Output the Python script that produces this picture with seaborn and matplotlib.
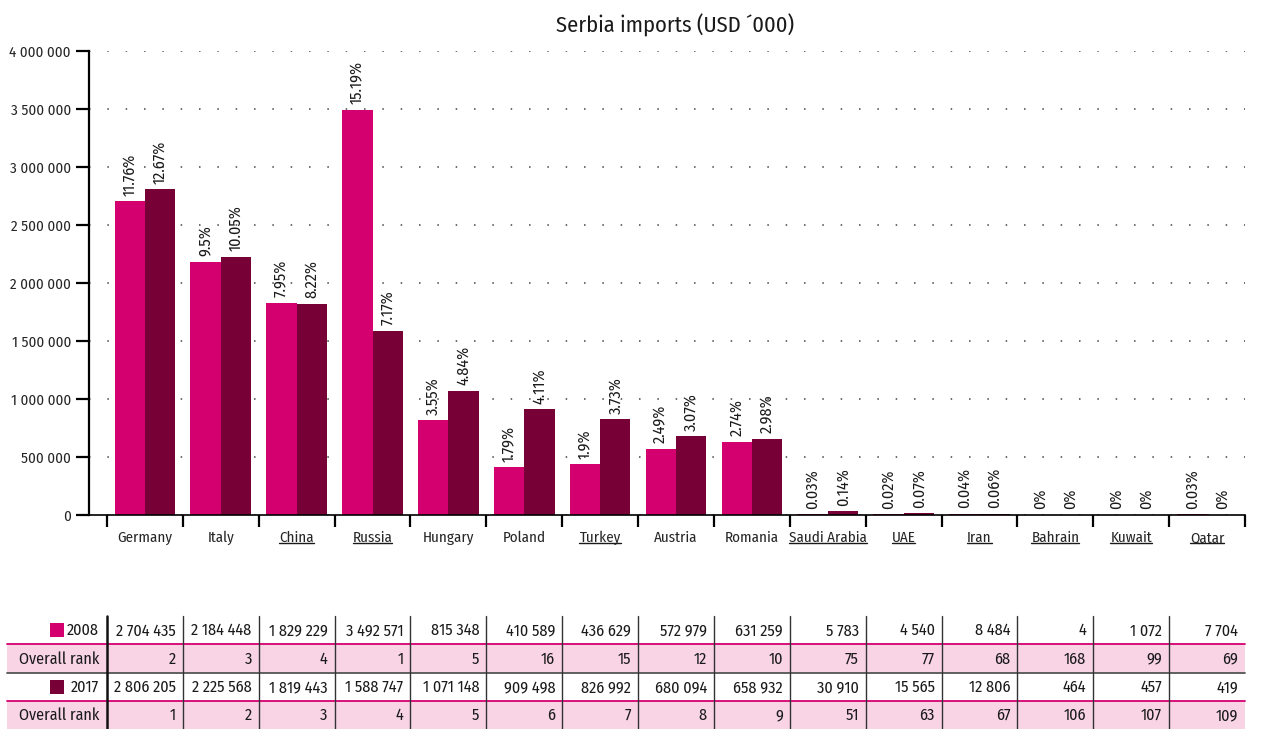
import numpy as np
import pandas as pd
import matplotlib
matplotlib.use("Agg")
import matplotlib.pyplot as plt
from matplotlib.lines import Line2D
from matplotlib.patches import Rectangle
import seaborn as sns

# ---------------- data ----------------
countries = ["Germany", "Italy", "China", "Russia", "Hungary", "Poland", "Turkey",
             "Austria", "Romania", "Saudi Arabia", "UAE", "Iran", "Bahrain", "Kuwait", "Qatar"]
underlined = ["China", "Russia", "Turkey", "Saudi Arabia", "UAE", "Iran", "Bahrain", "Kuwait", "Qatar"]
years = ["2008", "2017"]
values_2008 = [2704435, 2184448, 1829229, 3492571, 815348, 410589, 436629,
               572979, 631259, 5783, 4540, 8484, 4, 1072, 7704]
values_2017 = [2806205, 2225568, 1819443, 1588747, 1071148, 909498, 826992,
               680094, 658932, 30910, 15565, 12806, 464, 457, 419]
rank_2008 = [2, 3, 4, 1, 5, 16, 15, 12, 10, 75, 77, 68, 168, 99, 69]
rank_2017 = [1, 2, 3, 4, 5, 6, 7, 8, 9, 51, 63, 67, 106, 107, 109]
share_2008 = ["11.76%", "9.5%", "7.95%", "15.19%", "3.55%", "1.79%", "1.9%", "2.49%",
              "2.74%", "0.03%", "0.02%", "0.04%", "0%", "0%", "0.03%"]
share_2017 = ["12.67%", "10.05%", "8.22%", "7.17%", "4.84%", "4.11%", "3.73%", "3.07%",
              "2.98%", "0.14%", "0.07%", "0.06%", "0%", "0%", "0%"]
yticks = [0, 500000, 1000000, 1500000, 2000000, 2500000, 3000000, 3500000, 4000000]
title = "Serbia imports (USD \u00b4000)"
rank_label = "Overall rank"

# ---------------- style ----------------
sns.set_theme(style="white")
plt.rcParams["font.family"] = ["Fira Sans Condensed", "IBM Plex Sans Condensed", "DejaVu Sans"]
plt.rcParams["text.color"] = "#1a1a1a"

c2008 = "#d5006f"
c2017 = "#770036"
pink_bg = "#f8d4e5"
FS = 10.8      # axis tick labels
FS_T = 11.6    # table text
FS_P = 11.6    # percent labels

def fmt(v):
    return f"{v:,.0f}".replace(",", " ")

df = pd.DataFrame({
    "country": countries * 2,
    "year": [years[0]] * len(countries) + [years[1]] * len(countries),
    "value": values_2008 + values_2017,
})

W, H = 1261, 729
fig = plt.figure(figsize=(W / 100, H / 100), dpi=100)
ax_l, ax_r = 89 / W, 1245 / W
ax = fig.add_axes([ax_l, 1 - 515 / H, ax_r - ax_l, (515 - 51) / H])

sns.barplot(data=df, x="country", y="value", hue="year", order=countries,
            hue_order=years, palette=[c2008, c2017], saturation=1, width=0.8,
            linewidth=0, ax=ax, legend=False)

n = len(countries)
ax.set_xlim(-0.737, n - 0.5)
ax.set_ylim(0, 4000000)
ax.set_xlabel("")
ax.set_ylabel("")

# y axis
ax.set_yticks(yticks)
ax.set_yticklabels([fmt(v) for v in yticks], fontsize=FS)
ax.tick_params(axis="y", direction="out", length=9.5, width=1.6, color="black", pad=3.5, left=True)
ax.yaxis.grid(True, linestyle=(0, (1, 11)), color="#444444", linewidth=1.1)
ax.set_axisbelow(True)

# x axis: ticks at boundaries, labels at centres
bounds = np.arange(-0.5, n, 1.0)
ax.set_xticks(bounds)
ax.set_xticklabels([""] * len(bounds))
ax.tick_params(axis="x", which="major", direction="out", length=8.5, width=1.6,
               color="black", bottom=True)
ax.set_xticks(np.arange(n), minor=True)
ax.set_xticklabels(countries, minor=True, fontsize=FS)
ax.tick_params(axis="x", which="minor", length=0, pad=11.5, bottom=True)

for s in ["top", "right"]:
    ax.spines[s].set_visible(False)
ax.spines["left"].set_color("black")
ax.spines["left"].set_linewidth(1.6)
ax.spines["bottom"].set_color("black")
ax.spines["bottom"].set_linewidth(1.2)

# percent labels
ax.bar_label(ax.containers[0], labels=share_2008, rotation=90, padding=4, fontsize=FS_P)
ax.bar_label(ax.containers[1], labels=share_2017, rotation=90, padding=4, fontsize=FS_P)

fig.text(675 / W, 1 - 25 / H, title, ha="center", va="center", fontsize=16.2)

# ---------------- table ----------------
tax = fig.add_axes([ax_l, 0, ax_r - ax_l, (729 - 616) / H], sharex=ax)
tax.set_ylim(4, 0)
tax.axis("off")
px = 75.87  # pixels per category (for offsets outside axes)
left_edge = -0.5 - (107 - 7) / px
rows = [
    (years[0], [fmt(v) for v in values_2008], False, c2008),
    (rank_label, [str(v) for v in rank_2008], True, None),
    (years[1], [fmt(v) for v in values_2017], False, c2017),
    (rank_label, [str(v) for v in rank_2017], True, None),
]
for r, (lab, cells, shaded, col) in enumerate(rows):
    if shaded:
        tax.add_patch(Rectangle((left_edge, r), (n - 0.5) - left_edge, 1,
                                facecolor=pink_bg, edgecolor="none", clip_on=False, zorder=0))
    yc = r + 0.52
    tax.text(-0.5 - 8 / px, yc, lab, ha="right", va="center", fontsize=FS_T, clip_on=False)
    if col is not None:
        tax.add_patch(Rectangle((-0.5 - 57 / px, r + 0.25), 14 / px, 0.5,
                                facecolor=col, edgecolor="none", clip_on=False))
    for i, txt in enumerate(cells):
        tax.text(i + 0.5 - 7 / px, yc, txt, ha="right", va="center", fontsize=FS_T)

for r, colr, lw in [(1, c2008, 1.3), (2, "#555555", 1.3), (3, c2008, 1.3)]:
    tax.add_line(Line2D([left_edge, n - 0.5], [r, r], color=colr, lw=lw, clip_on=False))
for k, b in enumerate(bounds[:-1]):
    tax.add_line(Line2D([b, b], [0, 4], color="#111111" if k == 0 else "#333333",
                        lw=1.8 if k == 0 else 1.0, clip_on=False))

# underline selected country labels (common line just below the baseline)
fig.canvas.draw()
renderer = fig.canvas.get_renderer()
labels = ax.get_xticklabels(minor=True)
ref_lbl = [l for l in labels if l.get_text() == "UAE"][0]
y_line = ref_lbl.get_window_extent(renderer).y0 + 2.5
for lbl in labels:
    if lbl.get_text() in underlined:
        bb = lbl.get_window_extent(renderer)
        fig.add_artist(Line2D([bb.x0 / W, bb.x1 / W], [y_line / H, y_line / H],
                              transform=fig.transFigure, color="#1a1a1a", lw=1))

fig.savefig("out.png", dpi=100)
